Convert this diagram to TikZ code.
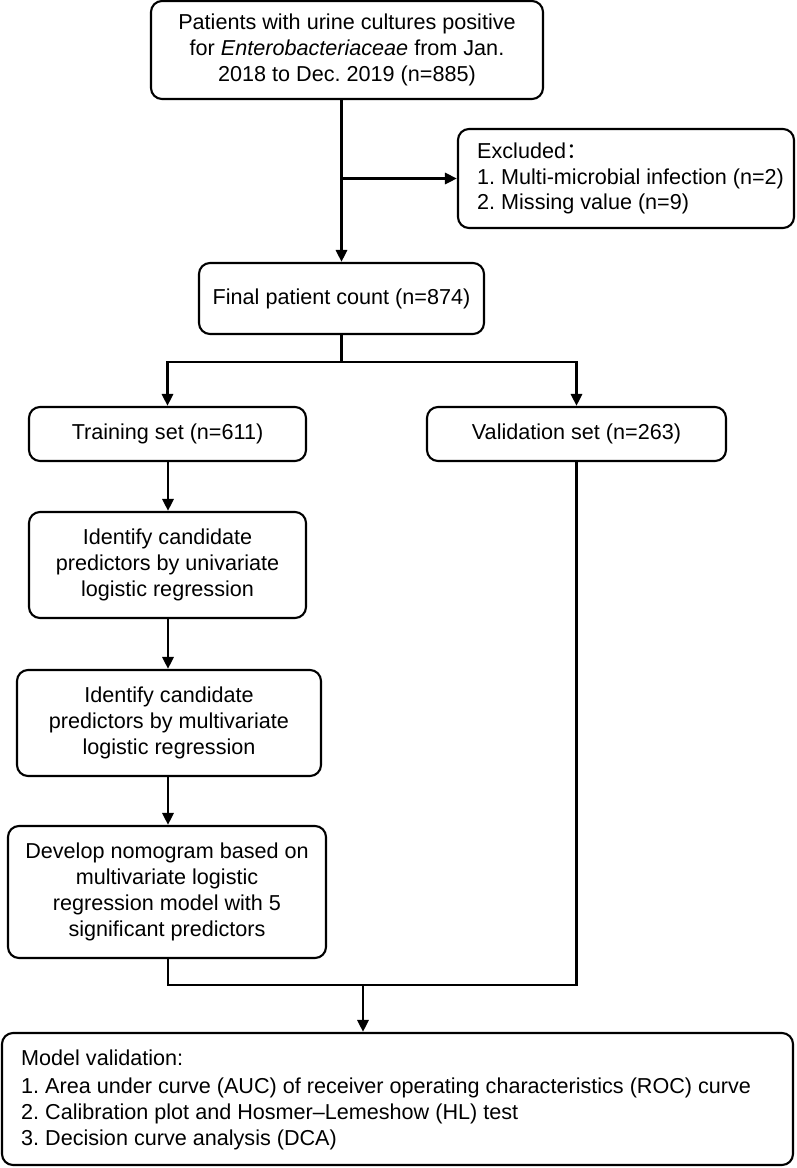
\documentclass[tikz,border=0pt]{standalone}
\usepackage{fontspec}
\setmainfont{Liberation Sans}
\newfontfamily\cjk{Noto Sans CJK SC}
\usetikzlibrary{arrows.meta}
\frenchspacing
\tikzset{
  box/.style={draw, line width=2.1pt, rounded corners=11pt, align=center, inner sep=0pt,
    font=\fontsize{21.6}{25.8}\selectfont},
  txt/.style={inner sep=0pt, align=left, font=\fontsize{21.6}{25.8}\selectfont},
  conn/.style={line width=2.8pt},
  arr/.style={line width=2.8pt, -{Triangle[length=12pt,width=11pt]}},
}
\begin{document}
\begin{tikzpicture}[x=1pt,y=-1pt]
\frenchspacing
\useasboundingbox (0,0) rectangle (797,1168);
% boxes
\node[box, minimum width=392pt, minimum height=98pt] (top) at (347,50)
  {Patients with urine cultures positive\\ for \textit{Enterobacteriaceae} from Jan.\\ 2018 to Dec. 2019 (n=885)};
\node[box, minimum width=336pt, minimum height=99pt] (excl) at (626,178.5) {};
\node[txt, anchor=west] (excltxt) at (477,178.5)
  {Excluded{\cjk ：}\\1. Multi-microbial infection (n=2)\\2. Missing value (n=9)};
\node[box, minimum width=285pt, minimum height=71pt] (final) at (341.5,298.5) {Final patient count (n=874)};
\node[box, minimum width=277pt, minimum height=54pt] (train) at (167.5,434) {Training set (n=611)};
\node[box, minimum width=299pt, minimum height=54pt] (valid) at (576.5,434) {Validation set (n=263)};
\node[box, minimum width=277pt, minimum height=106pt] (id1) at (167.5,565)
  {Identify candidate\\predictors by univariate\\logistic regression};
\node[box, minimum width=304pt, minimum height=106pt] (id2) at (169,723)
  {Identify candidate\\predictors by multivariate\\logistic regression};
\node[box, minimum width=318pt, minimum height=132pt] (dev) at (167,892)
  {Develop nomogram based on\\multivariate logistic\\regression model with 5\\significant predictors};
\node[box, minimum width=791pt, minimum height=132pt] (model) at (397.5,1099) {};
\node[txt, anchor=west] (modeltxt) at (21,1100)
  {Model validation:\\[2pt]1. Area under curve (AUC) of receiver operating characteristics (ROC) curve\\2. Calibration plot and Hosmer–Lemeshow (HL) test\\3. Decision curve analysis (DCA)};
% connectors
\coordinate (split) at (341.5,362);
\coordinate (merge) at (363,985);
\draw[arr] (final.north |- top.south) -- (final.north);
\draw[arr] (final.north |- excl.west) -- (excl.west);
\draw[conn] (final.south) -- (split);
\draw[arr] (split) -| (train.north);
\draw[arr] (split) -| (valid.north);
\draw[arr] (168,0 |- train.south) -- (168,0 |- id1.north);
\draw[arr] (168,0 |- id1.south) -- (168,0 |- id2.north);
\draw[arr] (168,0 |- id2.south) -- (168,0 |- dev.north);
\draw[conn] (168,0 |- dev.south) -- (168,0 |- merge) -- (valid.south |- merge) -- (valid.south);
\draw[arr] (merge) -- (merge |- model.north);
\end{tikzpicture}
\end{document}
